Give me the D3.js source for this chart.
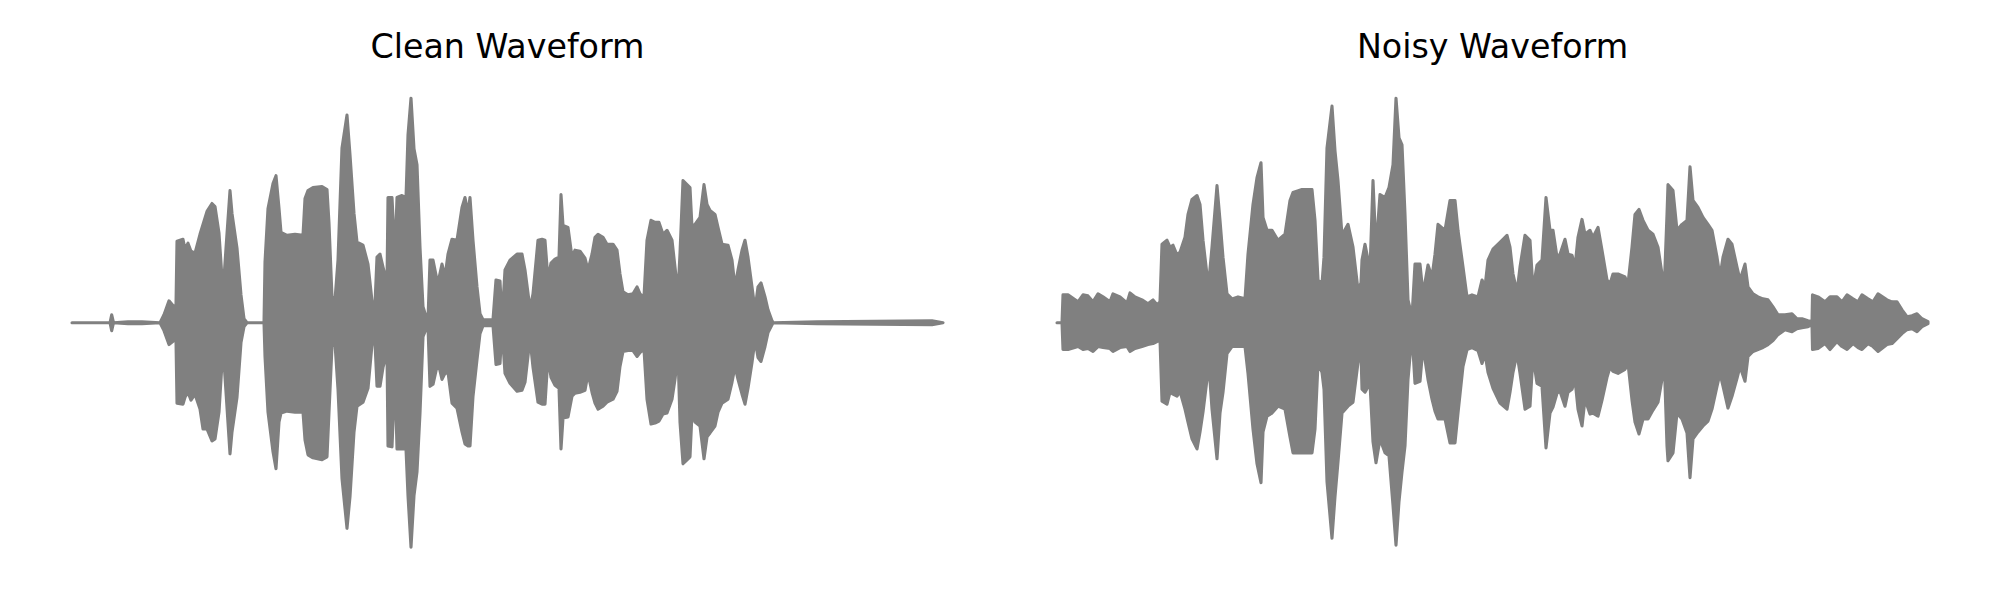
<!DOCTYPE html>
<html><head><meta charset="utf-8">
<script src="https://cdn.jsdelivr.net/npm/d3@7"></script>
<style>html,body{margin:0;padding:0;background:#fff;} svg{display:block}</style>
</head><body>
<svg id="chart" width="2000" height="600"></svg>
<script>
// Panel titles
const titles = ["Clean Waveform", "Noisy Waveform"];

// Clean waveform envelope (time in frames, amplitude in arbitrary units)
const cleanTime = [0,38,39.7,41.5,56,70,88,92,97,102,104,105,111,113,116,119,123,128,131,135,140,143,147,151,154,158,160,165,169,172,175,192,193,196,201,204,207,209,215,223,231,233,236,241,250,255,257,260,263,266,270,275,278,282,285,291,296,300,303,305,308,311,315,316,320,323,325,330,334,336,339,342,345,348,351,355,356,358,361,365,367,370,373,376,380,385,390,393,396,398,401,405,408,411,421,424,428,430,433,438,445,450,453,458,461,466,470,473,476,479,483,487,489,491,496,500,503,508,513,516,520,523,526,531,535,541,545,548,551,556,561,565,568,572,575,579,583,587,591,595,600,603,606,608,611,615,618,620,623,628,632,635,638,643,646,650,656,660,663,666,670,673,676,680,683,686,689,693,696,700,701,745,860,871];
const cleanUpper = [0,0,8,0,1,1,0,8,22,16,18,82,84,74,80,72,70,89,99,112,120,117,90,30,75,133,110,75,28,4,0,0,61,115,140,148,115,91,88,89,88,125,133,136,137,134,100,26,23,63,176,209,169,110,81,78,59,22,19,66,69,56,40,126,126,66,126,128,126,189,226,175,159,76,16,3,3,63,63,43,45,59,46,69,84,83,116,126,110,126,83,36,9,3,3,43,42,3,53,63,69,69,53,14,29,83,84,83,43,60,64,66,129,98,96,66,73,72,65,53,69,86,89,86,79,79,73,49,31,28,29,36,29,26,83,103,101,101,89,93,83,56,29,70,143,139,136,96,99,106,139,119,113,109,96,79,78,63,36,53,73,83,66,36,13,36,40,26,13,2,0,1,2,0];
const cleanLower = [0,0,8,0,1,1,0,8,22,18,18,81,82,75,70,78,72,87,107,107,119,117,90,24,70,132,110,75,20,4,0,0,34,90,130,147,100,91,89,90,90,118,133,136,138,135,90,24,21,67,157,207,175,110,84,80,66,22,20,64,64,45,30,124,125,51,127,127,127,174,226,174,150,91,14,4,4,64,62,44,44,57,51,50,81,86,110,122,124,124,74,37,11,3,3,42,41,6,51,61,69,68,60,16,45,80,82,82,34,55,63,66,127,96,95,74,71,70,68,51,70,81,87,84,80,77,69,44,29,28,28,34,30,27,77,102,101,99,92,91,77,57,31,100,142,138,135,91,100,104,137,115,111,104,90,81,77,60,44,57,72,82,66,40,17,35,39,24,10,2,0,1,2,0];

// Noisy waveform envelope
const noisyTime = [0,5,6,11,21,26,31,36,41,46,53,56,63,70,73,78,85,91,96,100,103,105,110,113,116,120,123,128,131,135,140,143,146,150,152,155,160,163,166,170,175,181,188,191,196,200,204,206,210,215,221,228,233,236,245,255,258,261,265,267,270,275,278,281,285,291,296,301,304,305,308,313,316,319,323,328,332,336,339,342,345,348,351,355,358,363,366,371,375,378,381,388,393,398,401,406,410,415,421,425,428,431,436,443,450,453,456,460,463,468,473,476,480,485,489,493,496,500,503,508,511,515,518,521,525,528,533,536,541,545,550,553,556,561,568,571,575,578,582,586,591,596,601,605,607,610,611,616,620,625,630,633,636,641,646,651,655,660,663,666,671,675,680,683,688,691,696,701,706,711,716,721,728,735,740,745,751,755,755.5,761,768,773,780,785,790,796,801,805,811,816,821,830,835,840,845,850,855,860,865,871];
const noisyUpper = [0,0,28,28,21,28,27,21,29,26,21,29,26,20,30,26,23,19,23,18,21,79,83,76,78,68,71,86,109,124,128,119,83,48,43,76,138,103,66,29,24,26,24,69,119,146,161,106,93,93,83,89,123,131,134,134,103,43,39,66,176,218,173,143,88,99,76,33,40,63,79,53,143,73,129,126,136,159,226,186,179,109,23,6,59,59,29,58,46,69,99,93,123,123,93,56,26,28,26,43,36,63,74,81,88,76,49,31,56,88,83,33,58,63,126,93,93,66,69,84,69,68,56,86,104,89,93,86,96,73,43,39,49,49,46,39,76,109,114,103,93,89,76,49,29,109,139,133,93,99,103,157,123,116,106,99,93,66,46,66,84,79,56,43,59,36,29,26,24,23,16,8,8,9,4,4,2,1,28,26,21,26,26,21,28,24,21,28,24,21,29,23,21,21,13,6,7,9,4,1];
const noisyLower = [0,0,27,27,24,27,26,29,24,25,26,29,25,24,29,26,24,22,21,19,17,79,82,70,72,74,69,87,100,117,127,110,90,57,44,87,137,91,70,31,24,24,24,51,107,142,161,110,94,91,84,87,115,131,131,131,107,41,50,67,160,217,175,140,91,84,80,40,31,67,70,61,120,141,117,131,134,184,224,180,150,124,57,11,61,59,24,57,77,89,97,97,121,121,91,44,27,25,28,41,31,50,66,81,87,70,50,31,51,87,84,34,61,64,126,91,85,71,69,84,70,67,57,87,104,77,92,91,94,78,55,45,49,51,47,41,78,100,112,97,97,88,80,57,31,124,139,131,91,97,111,156,117,110,104,99,87,64,51,64,86,74,56,44,59,34,29,27,25,22,18,12,7,9,6,5,4,2,27,26,21,27,19,24,27,21,25,27,21,24,29,22,21,16,11,7,6,9,4,1];

const series = [
  {title: titles[0], time: cleanTime, upper: cleanUpper, lower: cleanLower},
  {title: titles[1], time: noisyTime, upper: noisyUpper, lower: noisyLower}
];

const svg = d3.select("#chart");
const color = "#808080";
const axesLeft = [24, 1009];
const axesWidth = 967;
const centerY = 322.7;
const halfH = 224.5;

series.forEach((s, i) => {
  const x0 = axesLeft[i], x1 = x0 + axesWidth;
  const tMax = d3.max(s.time);
  const x = d3.scaleLinear().domain([0, tMax]).range([x0 + 48, x1 - 48]);
  const y = d3.scaleLinear().domain([-226, 226]).range([centerY + halfH, centerY - halfH]);
  const pts = s.time.map((t, k) => ({t, hi: s.upper[k], lo: s.lower[k]}));
  const area = d3.area()
    .x(d => x(d.t))
    .y0(d => y(-d.lo))
    .y1(d => y(d.hi));
  const g = svg.append("g");
  g.append("path")
    .datum(pts)
    .attr("d", area)
    .attr("fill", color)
    .attr("stroke", color)
    .attr("stroke-width", 3.1)
    .attr("stroke-linejoin", "round")
    .attr("stroke-linecap", "round");
  g.append("text")
    .attr("x", (x0 + x1) / 2)
    .attr("y", 58)
    .attr("text-anchor", "middle")
    .attr("font-family", "DejaVu Sans")
    .attr("font-size", "33.3px")
    .attr("fill", "#000")
    .text(s.title);
});
</script>
</body></html>
